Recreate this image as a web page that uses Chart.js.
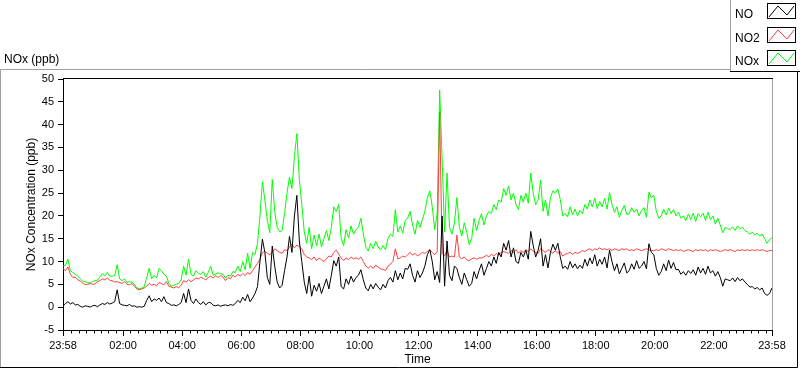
<!DOCTYPE html>
<html>
<head>
<meta charset="utf-8">
<script src="https://cdn.jsdelivr.net/npm/chart.js@4.4.1/dist/chart.umd.min.js"></script>
<style>
html,body{margin:0;padding:0;background:#fff;}
#wrap{position:relative;width:800px;height:369px;overflow:hidden;}
canvas{display:block;}
</style>
</head>
<body>
<div id="wrap"><canvas id="c" width="800" height="369"></canvas></div>
<script>
// ---- data (5-minute samples, minutes since 23:58) ----
const chartTitle = 'NOx (ppb)';
const yAxisTitle = 'NOx Concentration (ppb)';
const xAxisTitle = 'Time';
const seriesNames = ['NO', 'NO2', 'NOx'];
const seriesColors = ['#000000', '#ff4040', '#00ff00'];
const stepMinutes = 5;

const noValues = [
0.3,0.8,1.2,0.7,1.0,0.5,0.6,0.2,0.0,0.3,
0.2,0.0,0.3,0.4,0.1,0.5,0.8,0.6,1.0,0.7,
0.9,1.2,3.8,0.8,0.5,0.4,0.3,0.6,0.2,0.3,
0.0,0.1,0.0,0.2,1.5,2.5,1.2,1.8,1.5,2.0,
1.2,2.3,1.0,0.8,0.4,0.5,0.3,0.6,1.0,3.0,
1.0,4.0,1.5,0.8,1.8,1.0,0.6,1.2,0.5,1.0,
1.0,0.4,0.3,0.5,0.2,0.4,0.5,0.3,0.6,0.4,
0.8,1.5,1.0,2.2,1.4,2.8,1.2,2.0,3.0,4.5,
10.0,14.9,12.0,6.5,5.0,13.4,9.0,5.5,4.2,4.8,
8.0,11.0,15.5,12.0,20.0,24.5,14.5,10.0,5.5,3.0,
6.8,2.4,4.8,3.5,5.2,3.0,4.6,6.2,4.0,7.0,
10.2,9.0,11.0,4.5,4.0,6.2,5.0,6.8,5.5,6.5,
7.0,8.2,6.0,4.2,3.6,5.0,4.0,5.2,4.4,3.8,
5.0,4.2,5.8,6.5,5.5,8.0,6.0,7.5,6.2,8.5,
8.3,9.5,7.0,5.5,8.0,6.5,7.5,9.0,11.5,12.6,
10.0,6.0,7.8,5.4,20.0,4.6,14.5,7.0,5.8,9.0,
8.5,6.5,5.0,7.5,6.0,4.6,5.2,7.8,6.2,8.0,
9.5,7.0,8.5,10.0,9.0,11.0,9.6,12.0,11.0,14.0,
12.5,14.6,11.0,13.0,10.0,9.6,12.0,11.0,12.5,10.5,
16.6,13.5,11.0,12.5,15.0,9.0,11.5,8.6,12.0,13.8,
12.5,14.0,11.0,8.5,9.0,8.3,10.0,8.6,9.5,8.4,
9.2,8.5,10.5,9.0,10.8,9.5,11.5,9.0,10.5,9.4,
11.0,8.6,12.5,10.0,8.0,9.5,7.3,8.5,9.7,7.5,
8.0,9.5,8.3,10.2,8.5,9.0,10.0,8.4,13.9,12.0,
11.5,8.5,7.0,7.8,9.5,8.0,10.3,8.5,9.8,8.2,
8.3,7.2,7.8,7.0,8.0,7.4,8.2,7.0,8.8,7.5,
8.5,7.2,9.0,7.5,8.0,6.8,7.8,6.5,4.6,6.2,
6.0,5.8,6.4,5.6,6.5,5.8,6.2,5.5,5.0,4.4,
4.5,4.0,4.3,3.8,4.2,3.0,2.6,3.0,4.2
];

const no2Values = [
8.5,8.0,8.8,7.2,6.5,6.6,6.0,5.8,5.2,5.0,
5.0,5.2,5.0,5.1,5.6,5.8,6.2,6.0,6.4,5.9,
5.8,5.5,5.6,5.4,5.2,5.6,5.0,4.9,5.2,4.6,
4.0,3.8,4.0,4.2,4.6,5.2,4.8,5.0,4.7,5.4,
5.2,4.9,5.6,4.6,4.4,4.2,4.5,4.3,4.8,5.8,
5.5,6.0,5.6,6.0,6.4,6.2,6.6,6.3,6.0,6.5,
6.8,6.4,6.9,6.5,7.0,6.6,5.8,6.5,6.2,7.0,
6.6,7.2,6.8,7.4,6.9,7.6,7.2,8.0,8.8,9.6,
10.5,12.0,12.2,11.8,11.5,12.0,12.8,12.4,12.0,11.8,
12.6,12.4,13.2,13.8,13.0,13.6,13.2,12.8,11.5,11.0,
10.8,10.4,11.0,10.2,10.8,10.4,10.0,10.6,11.2,11.0,
12.0,12.5,11.6,10.8,10.2,10.8,10.4,11.0,10.6,10.8,
10.5,11.0,10.0,9.0,8.6,9.0,8.5,9.2,8.8,8.4,
8.3,8.0,9.0,9.4,10.0,12.8,10.6,10.8,11.2,11.0,
11.5,12.0,11.4,11.8,11.2,11.6,12.0,11.8,12.2,12.6,
12.0,11.5,12.2,42.8,11.8,11.2,12.5,11.0,11.2,11.0,
15.8,11.0,10.6,11.0,10.4,10.2,10.6,10.8,10.5,10.8,
10.8,11.0,11.4,11.0,11.6,11.2,11.8,11.4,12.0,12.2,
12.0,11.8,12.4,12.0,12.6,11.8,12.4,12.0,12.6,12.2,
12.8,12.2,12.0,11.8,12.8,12.4,12.0,12.6,12.2,11.8,
12.4,11.8,12.2,11.2,11.6,11.8,12.0,11.6,12.0,11.8,
12.0,12.4,12.2,12.6,12.8,12.4,12.8,12.6,13.0,12.6,
12.8,12.6,12.8,12.4,12.8,12.6,12.4,12.8,12.6,12.8,
12.4,12.6,12.4,12.8,12.6,12.4,12.6,12.8,12.6,12.4,
12.4,12.6,12.4,12.8,12.6,12.4,12.8,12.6,12.4,12.6,
12.4,12.6,12.2,12.4,12.6,12.4,12.2,12.6,12.4,12.6,
12.4,12.6,12.2,12.6,12.4,12.6,12.4,12.2,12.4,12.6,
12.4,12.6,12.4,12.2,12.6,12.4,12.6,12.4,12.6,12.4,
12.6,12.4,12.6,12.4,12.6,12.4,12.2,12.4,12.4
];

const noxValues = [
9.0,9.2,10.5,8.0,7.6,7.2,6.8,6.2,5.7,5.6,
5.4,5.3,5.6,5.8,5.9,6.6,7.4,6.8,7.6,6.8,
6.8,6.9,9.3,6.2,5.8,6.2,5.4,5.6,5.5,5.0,
4.2,4.0,4.2,4.5,6.5,8.5,6.2,7.0,6.4,8.5,
8.0,7.2,6.8,5.2,4.6,4.8,5.0,5.2,6.0,9.0,
7.0,10.5,7.2,6.8,8.0,7.4,7.2,7.8,6.6,7.6,
9.0,7.0,7.3,7.5,7.4,7.2,6.4,7.0,6.8,7.8,
7.6,9.0,7.8,10.0,8.2,11.8,8.5,12.0,11.5,14.0,
20.0,27.5,23.5,19.0,16.3,28.0,21.0,17.5,16.5,16.8,
20.5,25.0,28.5,26.0,33.0,38.0,28.0,22.5,16.5,14.0,
17.5,12.8,15.8,13.5,16.0,13.2,15.0,16.8,14.6,17.5,
22.0,21.0,22.5,15.0,13.5,17.0,15.2,17.8,16.0,17.0,
17.5,19.5,16.0,13.2,12.3,14.0,12.8,14.5,13.2,12.5,
13.5,12.6,15.0,16.0,15.5,21.4,16.5,17.8,16.2,19.0,
19.5,21.0,18.0,16.0,19.0,17.5,19.2,21.0,24.0,25.5,
22.0,17.0,20.5,47.6,32.5,16.5,29.4,17.5,16.0,18.4,
24.0,17.5,15.6,18.5,16.4,13.7,15.0,19.5,16.8,19.0,
20.5,18.0,20.0,21.0,20.5,22.5,21.4,23.5,23.0,26.0,
24.5,26.5,23.5,25.0,22.5,21.4,24.5,23.0,25.0,22.8,
29.4,25.0,22.5,23.5,27.9,21.0,23.5,20.0,24.0,25.5,
25.0,25.9,23.6,20.0,20.5,19.8,22.0,20.2,21.5,20.0,
21.2,20.5,22.5,21.5,23.5,22.0,23.9,21.6,23.2,22.0,
23.8,21.5,25.1,22.5,20.8,22.0,19.7,21.2,22.3,20.3,
20.5,21.8,20.8,21.5,20.0,21.2,21.8,19.7,25.2,24.0,
24.5,21.0,19.5,20.0,21.5,20.2,21.7,20.5,21.4,20.0,
20.8,19.5,20.0,19.0,20.4,19.2,20.6,18.8,20.5,19.8,
20.6,19.0,20.8,19.2,20.0,18.2,19.5,18.0,16.3,17.5,
17.2,17.0,17.6,16.8,17.8,17.2,17.5,16.8,16.5,16.0,
16.4,15.8,16.2,15.6,16.0,15.0,14.0,14.8,15.2
];

const xTickMinutes = [0,122,242,362,482,602,722,842,962,1082,1202,1322,1440];
const xTickLabels = ['23:58','02:00','04:00','06:00','08:00','10:00','12:00','14:00','16:00','18:00','20:00','22:00','23:58'];
const xMinorStart = 17, xMinorStep = 15;
const yMin = -5, yMax = 50, yStep = 5;

// ---- chart ----
const FONT = "'Liberation Sans', Arial, sans-serif";
Chart.defaults.font.family = FONT;
Chart.defaults.color = '#000';

const toPoints = vals => vals.map((v, i) => ({x: i * stepMinutes, y: v}));
const seriesValues = [noValues, no2Values, noxValues];

const decor = {
  id: 'decor',
  beforeDraw(chart) {
    const ctx = chart.ctx;
    ctx.save();
    ctx.fillStyle = '#fff';
    ctx.fillRect(0, 0, chart.width, chart.height);
    ctx.restore();
  },
  afterDraw(chart) {
    const {ctx, chartArea: a} = chart;
    const xs = chart.scales.x;
    ctx.save();
    ctx.lineWidth = 1;
    // outer frame
    ctx.strokeStyle = '#a0a0a0';
    ctx.beginPath(); ctx.moveTo(0.5, 368); ctx.lineTo(0.5, 69.5); ctx.lineTo(730, 69.5); ctx.stroke();
    ctx.strokeStyle = '#000';
    ctx.beginPath(); ctx.moveTo(0, 367.5); ctx.lineTo(797.5, 367.5); ctx.lineTo(797.5, 72); ctx.stroke();
    // plot border (top dark, right grey)
    ctx.beginPath(); ctx.moveTo(a.left, a.top - 0.5); ctx.lineTo(a.right + 1, a.top - 0.5); ctx.stroke();
    ctx.strokeStyle = '#a0a0a0';
    ctx.beginPath(); ctx.moveTo(a.right + 0.5, a.top); ctx.lineTo(a.right + 0.5, a.bottom); ctx.stroke();
    // minor x ticks every 15 minutes
    ctx.strokeStyle = '#000';
    ctx.beginPath();
    for (let m = xMinorStart; m < xs.max; m += xMinorStep) {
      if (xTickMinutes.includes(m)) continue;
      const px = Math.round(xs.getPixelForValue(m)) + 0.5;
      ctx.moveTo(px, a.bottom); ctx.lineTo(px, a.bottom + 3.5);
    }
    ctx.stroke();
    // chart title
    ctx.font = '12px ' + FONT;
    ctx.fillStyle = '#000';
    ctx.textAlign = 'left';
    ctx.textBaseline = 'alphabetic';
    ctx.fillText(chartTitle, 4, 62.5);
    // legend box
    ctx.fillStyle = '#fff';
    ctx.fillRect(731, 0, 69, 71);
    ctx.strokeStyle = '#a0a0a0';
    ctx.beginPath(); ctx.moveTo(730.5, 0); ctx.lineTo(730.5, 72); ctx.stroke();
    ctx.strokeStyle = '#000';
    ctx.beginPath(); ctx.moveTo(730, 71.5); ctx.lineTo(800, 71.5); ctx.stroke();
    chart.data.datasets.forEach((ds, k) => {
      const top = 3 + k * 23.5;
      const ty = Math.round(top);
      ctx.fillStyle = '#000';
      ctx.fillText(ds.label, 735, ty + 15);
      ctx.strokeStyle = '#000';
      ctx.strokeRect(767.5, ty + 0.5, 28, 15);
      ctx.strokeStyle = ds.borderColor;
      ctx.beginPath();
      ctx.moveTo(769, ty + 14); ctx.lineTo(778, ty + 3); ctx.lineTo(787, ty + 12); ctx.lineTo(794, ty + 3);
      ctx.stroke();
    });
    ctx.restore();
  }
};

new Chart(document.getElementById('c'), {
  type: 'line',
  data: {
    datasets: seriesNames.map((name, k) => ({
      label: name,
      data: toPoints(seriesValues[k]),
      borderColor: seriesColors[k],
      backgroundColor: seriesColors[k],
      borderWidth: 1,
      pointRadius: 0,
      tension: 0,
      fill: false
    }))
  },
  options: {
    responsive: false,
    animation: false,
    devicePixelRatio: 1,
    layout: {padding: {top: 79, right: 28, left: 0, bottom: 0}},
    plugins: {legend: {display: false}, tooltip: {enabled: false}, title: {display: false}},
    scales: {
      x: {
        type: 'linear',
        min: 0, max: 1440,
        afterBuildTicks(s) { s.ticks = xTickMinutes.map(v => ({value: v})); },
        afterFit(s) { s.height = 39; },
        ticks: {
          autoSkip: false, maxRotation: 0, padding: 3,
          font: {size: 11},
          callback: (v, i) => xTickLabels[i]
        },
        grid: {drawOnChartArea: false, drawTicks: true, tickLength: 6, color: '#000'},
        border: {display: true, color: '#000', width: 1},
        title: {display: true, text: xAxisTitle, font: {size: 12}, padding: {top: 0, bottom: 2}}
      },
      y: {
        type: 'linear',
        min: yMin, max: yMax,
        afterFit(s) { s.width = 63; },
        ticks: {stepSize: yStep, padding: 4, font: {size: 11}},
        grid: {drawOnChartArea: false, drawTicks: true, tickLength: 5, color: '#000'},
        border: {display: true, color: '#000', width: 1},
        title: {display: true, text: yAxisTitle, font: {size: 12}, padding: {top: 24, bottom: 0}}
      }
    }
  },
  plugins: [decor]
});
</script>
</body>
</html>
